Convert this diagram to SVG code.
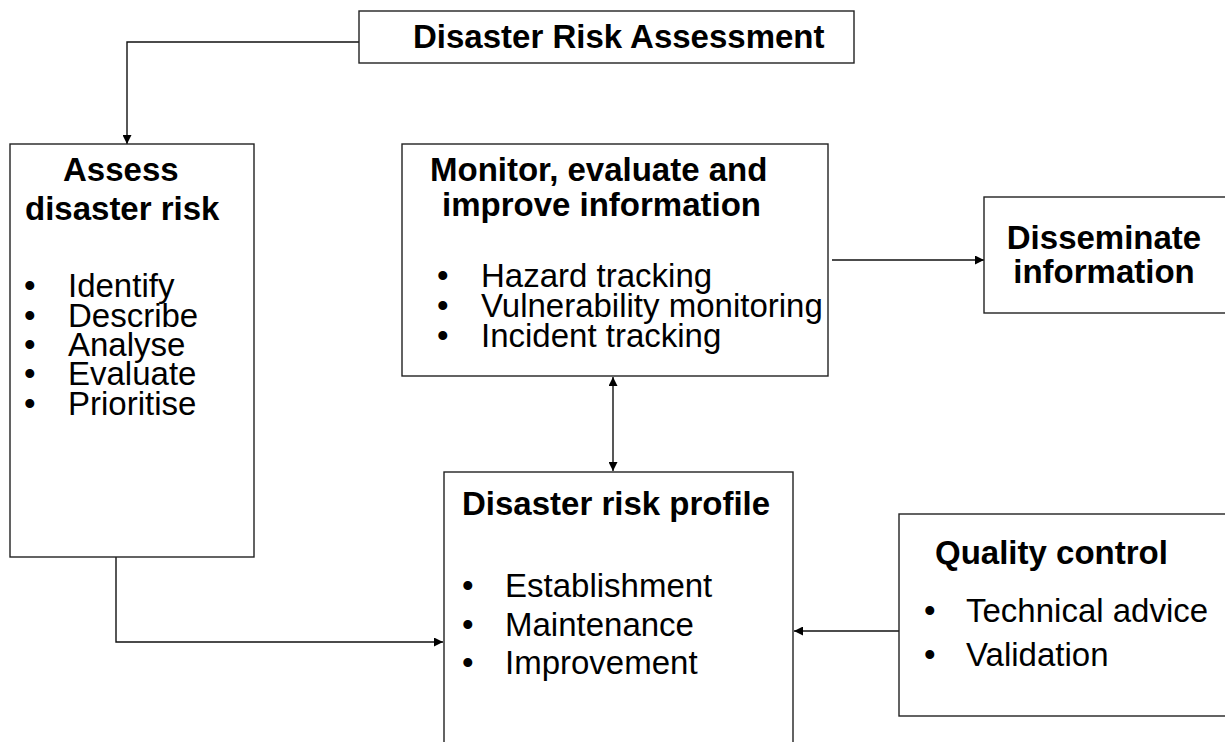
<svg xmlns="http://www.w3.org/2000/svg" width="1225" height="742" viewBox="0 0 1225 742">
<style>
.box{fill:#fff;stroke:#222;stroke-width:1.4}
.h{font-family:"Liberation Sans",Arial,sans-serif;font-weight:bold;font-size:33px;fill:#000}
.t{font-family:"Liberation Sans",Arial,sans-serif;font-size:33px;fill:#000}
.c{fill:none;stroke:#111;stroke-width:1.4}
</style>
<defs>
<marker id="ah" viewBox="0 0 10 10" refX="10" refY="5" markerWidth="10" markerHeight="9" markerUnits="userSpaceOnUse" orient="auto-start-reverse">
<path d="M0,0 L10,5 L0,10 z" fill="#000"/>
</marker>
</defs>
<rect width="1225" height="742" fill="#fff"/>
<g id="connectors">
<path class="c" d="M359,42 H127 V144" marker-end="url(#ah)"/>
<path class="c" d="M116,557 V642 H443" marker-end="url(#ah)"/>
<path class="c" d="M832,260 H984" marker-end="url(#ah)"/>
<path class="c" d="M613,377 V471" marker-start="url(#ah)" marker-end="url(#ah)"/>
<path class="c" d="M899,631 H794" marker-end="url(#ah)"/>
</g>
<g id="title">
<rect class="box" x="359" y="11" width="495" height="52"/>
<text class="h" x="413" y="48">Disaster Risk Assessment</text>
</g>
<g id="assess">
<rect class="box" x="10" y="144" width="244" height="413"/>
<text class="h" x="63" y="181">Assess</text>
<text class="h" x="25" y="220">disaster risk</text>
<text class="t" x="24" y="297">•</text><text class="t" x="68" y="297">Identify</text>
<text class="t" x="24" y="326.5">•</text><text class="t" x="68" y="326.5">Describe</text>
<text class="t" x="24" y="356">•</text><text class="t" x="68" y="356">Analyse</text>
<text class="t" x="24" y="385">•</text><text class="t" x="68" y="385">Evaluate</text>
<text class="t" x="24" y="414.5">•</text><text class="t" x="68" y="414.5">Prioritise</text>
</g>
<g id="monitor">
<rect class="box" x="402" y="144" width="426" height="232"/>
<text class="h" x="430" y="181">Monitor, evaluate and</text>
<text class="h" x="442" y="216">improve information</text>
<text class="t" x="437" y="287">•</text><text class="t" x="481" y="287">Hazard tracking</text>
<text class="t" x="437" y="317">•</text><text class="t" x="481" y="317">Vulnerability monitoring</text>
<text class="t" x="437" y="347">•</text><text class="t" x="481" y="347">Incident tracking</text>
</g>
<g id="disseminate">
<rect class="box" x="984" y="197" width="260" height="116"/>
<text class="h" x="1104" y="249" text-anchor="middle">Disseminate</text>
<text class="h" x="1104" y="283" text-anchor="middle">information</text>
</g>
<g id="profile">
<rect class="box" x="444" y="472" width="349" height="290"/>
<text class="h" x="462" y="515">Disaster risk profile</text>
<text class="t" x="462" y="597">•</text><text class="t" x="505" y="597">Establishment</text>
<text class="t" x="462" y="636">•</text><text class="t" x="505" y="636">Maintenance</text>
<text class="t" x="462" y="674">•</text><text class="t" x="505" y="674">Improvement</text>
</g>
<g id="quality">
<rect class="box" x="899" y="514" width="345" height="202"/>
<text class="h" x="935" y="564">Quality control</text>
<text class="t" x="924" y="622">•</text><text class="t" x="966" y="622">Technical advice</text>
<text class="t" x="924" y="666">•</text><text class="t" x="966" y="666">Validation</text>
</g>
</svg>
